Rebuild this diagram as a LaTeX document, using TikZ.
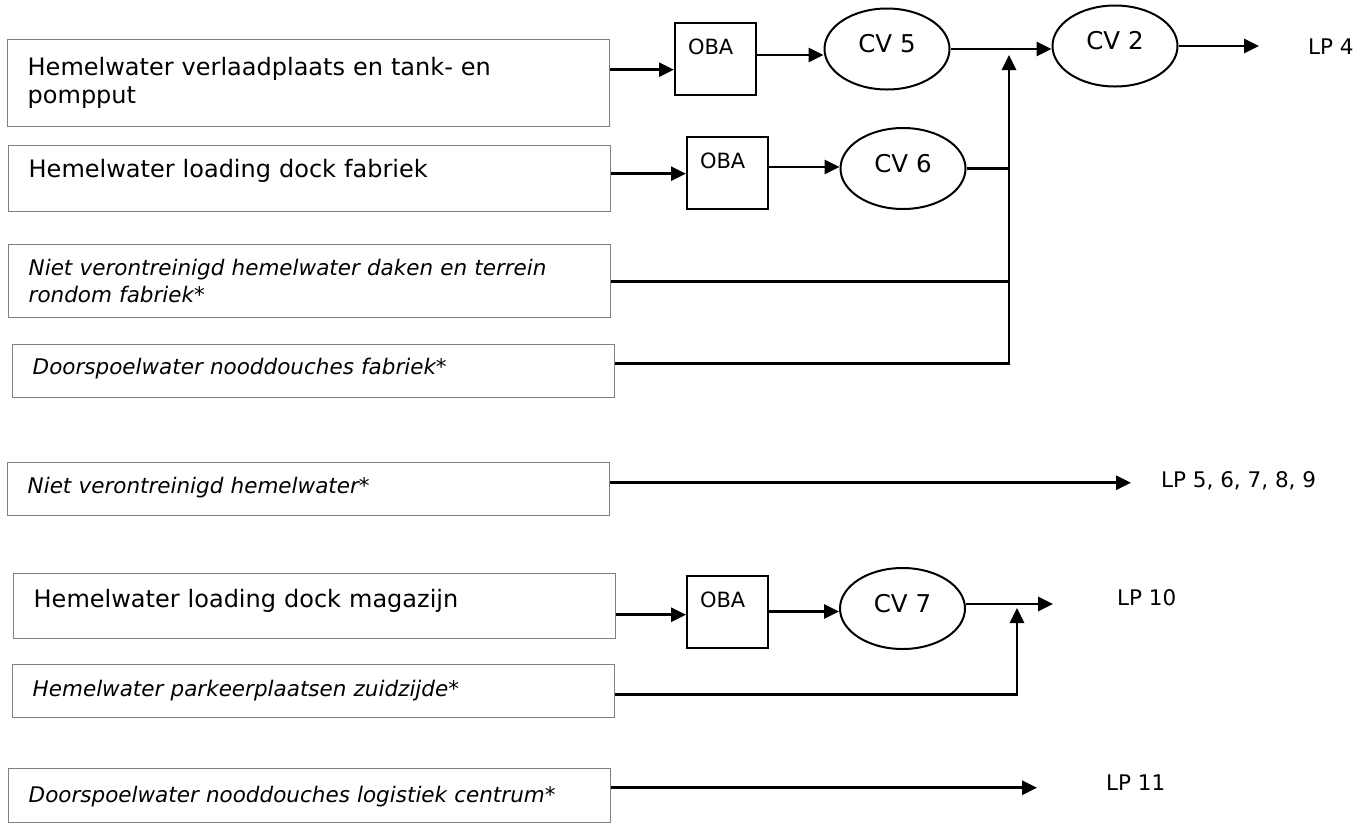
\documentclass[tikz,border=0pt]{standalone}
\usepackage{fontspec}
\setmainfont{DejaVu Sans}
\usepackage{tikz}
\usetikzlibrary{arrows.meta, shapes.geometric}

\begin{document}
\begin{tikzpicture}[x = 1pt, y = -1pt,
    source/.style = {draw = black!50, line width = 1.4pt, anchor = north west,
      minimum width = 602pt, text width = 562pt, inner xsep = 20pt, inner ysep = 0pt,
      align = left, font = \fontsize{24}{28}\selectfont},
    source star/.style = {source, font = \fontsize{21.5}{27}\selectfont\itshape},
    oba/.style = {draw, line width = 2pt, minimum width = 81pt, minimum height = 72pt,
      text width = 55pt, align = left, inner sep = 0pt, text height = 15pt,
      text depth = 24pt, font = \fontsize{21}{24}\selectfont},
    cv/.style = {ellipse, draw, line width = 2pt, minimum width = 125pt,
      minimum height = 81pt, inner sep = 0pt, text height = 17pt, text depth = 10pt,
      font = \fontsize{24.5}{28}\selectfont},
    outlet/.style = {anchor = base west, inner sep = 0pt, font = \fontsize{21.5}{25}\selectfont},
    pipe/.style = {line width = 2.8pt},
    flow/.style = {pipe, -{Triangle[length = 15pt, width = 14pt]}},
  ]
  \useasboundingbox (0,0) rectangle (1371,823);

  \node[source, minimum height = 87pt] (hv1) at (7,39) {Hemelwater verlaadplaats en tank- en\\pompput};
  \node[source, minimum height = 66pt, text height = 17pt, text depth = 19pt] (hv2) at (8,145) {Hemelwater loading dock fabriek};
  \node[source star, minimum height = 73pt] (hv3) at (8,244) {Niet verontreinigd hemelwater daken en terrein\\rondom fabriek*};
  \node[source star, minimum height = 53pt, text height = 17pt, text depth = 10pt] (hv4) at (12,344) {Doorspoelwater nooddouches fabriek*};
  \node[source star, minimum height = 53pt, text height = 17pt, text depth = 8pt] (hv5) at (7,462) {Niet verontreinigd hemelwater*};
  \node[source, minimum height = 65pt, text height = 17pt, text depth = 15pt] (hv6) at (13,573) {Hemelwater loading dock magazijn};
  \node[source star, minimum height = 53pt, text height = 17pt, text depth = 6pt] (hv7) at (12,664) {Hemelwater parkeerplaatsen zuidzijde*};
  \node[source star, minimum height = 54pt, text height = 17pt, text depth = 3pt] (hv8) at (8,768) {Doorspoelwater nooddouches logistiek centrum*};

  \node[oba] (oba1) at (715.5,59) {OBA};
  \node[oba] (oba2) at (727.5,173) {OBA};
  \node[oba] (oba3) at (727.5,611.5) {OBA};
  \node[cv] (cv5) at (887,49) {CV 5};
  \node[cv] (cv2) at (1115,46) {CV 2};
  \node[cv] (cv6) at (903,168.5) {CV 6};
  \node[cv] (cv7) at (902.5,608.5) {CV 7};

  \node[outlet] (lp4) at (1308,54) {LP 4};
  \node[outlet] (lp5) at (1161,487) {LP 5, 6, 7, 8, 9};
  \node[outlet] (lp10) at (1117,605) {LP 10};
  \node[outlet] (lp11) at (1106,790) {LP 11};

  \coordinate (e4) at (1259,48);
  \coordinate (e5) at (1131,482);
  \coordinate (e10) at (1053,604);
  \coordinate (e11) at (1037,787);
  \coordinate (m1) at (1009,55);
  \coordinate (m2) at (1017,608);

  \draw[flow] ([yshift = 13.5pt]hv1.east) coordinate (p) -- (p -| oba1.west);
  \draw[flow] ([yshift = 4pt]oba1.east) coordinate (p) -- (p -| cv5.west);
  \draw[flow] (cv5.east) -- (cv5.east -| cv2.west);
  \draw[flow] (cv2.east) -- (cv2.east -| e4);
  \draw[flow] ([yshift = 5pt]hv2.east) coordinate (p) -- (p -| oba2.west);
  \draw[flow] ([yshift = 6pt]oba2.east) coordinate (p) -- (p -| cv6.west);
  \draw[pipe, line width = 2.2pt] (cv6.east) -- (cv6.east -| m1);
  \draw[pipe] (hv3.east) -- (hv3.east -| m1);
  \draw[flow] ([yshift = 7.5pt]hv4.east) -| (m1);
  \draw[flow] ([yshift = 6.5pt]hv5.east) coordinate (p) -- (p -| e5);
  \draw[flow] ([yshift = -8.5pt]hv6.east) coordinate (p) -- (p -| oba3.west);
  \draw[flow] (oba3.east) -- (oba3.east -| cv7.west);
  \draw[flow] ([yshift = 4.5pt]cv7.east) coordinate (p) -- (p -| e10);
  \draw[flow] ([yshift = -3.5pt]hv7.east) -| (m2);
  \draw[flow] ([yshift = 8pt]hv8.east) coordinate (p) -- (p -| e11);
\end{tikzpicture}
\end{document}
